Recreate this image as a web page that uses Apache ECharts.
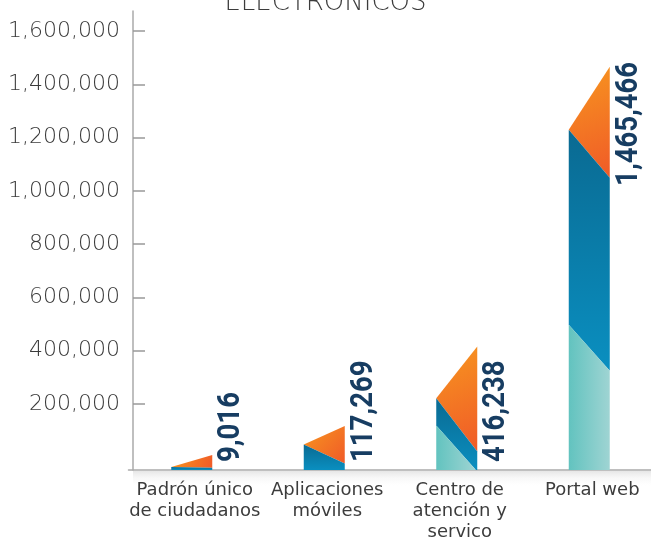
<!DOCTYPE html>
<html>
<head>
<meta charset="utf-8">
<script src="https://cdn.jsdelivr.net/npm/echarts@6/dist/echarts.min.js"></script>
<style>
  html, body { margin: 0; padding: 0; background: #fff; }
  #chart { width: 651px; height: 540px; }
</style>
</head>
<body>
<div id="chart"></div>
<script>
var categories = ['Padrón único\nde ciudadanos', 'Aplicaciones\nmóviles', 'Centro de\natención y\nservico', 'Portal web'];
var values = [9016, 117269, 416238, 1465466];
var tickMin = 200000;
var tickMax = 1600000;
var tickStep = 200000;

var myChart = echarts.init(document.getElementById('chart'));

// the bar grid uses the same scale as the tick grid, but its axis runs a bit past both ends
var pxPerUnit = 373 / (tickMax - tickMin);
var barMin = tickMin - 66 / pxPerUnit;
var barMax = tickMax + 20 / pxPerUnit;

function fmt(v) {
  return v.toLocaleString('en-US');
}

function renderItem(params, api) {
  var i = api.value(0);
  var v = api.value(1);
  var cs = params.coordSys;
  var base = cs.y + cs.height;
  var pt = api.coord([i, v]);
  var x0 = pt[0] - 23.5;
  var x1 = pt[0] + 17.5;
  var top = pt[1];
  var h = base - top;

  var leftTop = top + Math.min(63, Math.max(12, 0.42 * h));
  var orangeBot = top + Math.min(111, 0.85 * h);
  var tealL = h > 80 ? 0.36 * h : 0;
  var tealR = tealL - 46;

  var children = [];
  // orange fold
  children.push({
    type: 'polygon',
    shape: { points: [[x0, leftTop], [x1, top], [x1, orangeBot]] },
    style: { fill: new echarts.graphic.LinearGradient(0, 0, 1, 1, [
      { offset: 0, color: '#f7961f' }, { offset: 1, color: '#f05a28' }]) }
  });
  // blue body
  var bluePts = [[x0, leftTop], [x1, orangeBot]];
  var xc = x1;
  if (tealL > 0 && tealR < 0) {
    xc = x0 + (x1 - x0) * tealL / 46;
    bluePts.push([x1, base], [xc, base], [x0, base - tealL]);
  } else {
    bluePts.push([x1, base - Math.max(tealR, 0)], [x0, base - tealL]);
  }
  children.push({
    type: 'polygon',
    shape: { points: bluePts },
    style: { fill: new echarts.graphic.LinearGradient(0, 0, 0, 1, [
      { offset: 0, color: '#0a6a92' }, { offset: 1, color: '#0a8fc0' }]) }
  });
  // teal base
  if (tealL > 0) {
    var tealPts = [[x0, base - tealL], [x0, base]];
    if (tealR < 0) {
      tealPts.push([xc, base]);
    } else {
      tealPts.push([x1, base], [x1, base - tealR]);
    }
    children.push({
      type: 'polygon',
      shape: { points: tealPts },
      style: { fill: new echarts.graphic.LinearGradient(0, 0, 1, 0, [
        { offset: 0, color: '#62c3bf' }, { offset: 1, color: '#9fd4d3' }]) }
    });
  }
  // value label, rotated
  var tall = h > 200;
  children.push({
    type: 'text',
    x: x1 + 3,
    y: tall ? top - 5 : base - 8,
    rotation: Math.PI / 2,
    scaleX: 0.86,
    style: {
      text: fmt(v),
      fill: '#173d62',
      font: 'bold 32px Roboto',
      align: tall ? 'right' : 'left',
      verticalAlign: 'top'
    }
  });
  return { type: 'group', children: children };
}

var option = {
  animation: false,
  title: {
    text: 'ELECTRONICOS',
    left: 'center',
    top: -15,
    textStyle: { fontFamily: 'DejaVu Sans', fontSize: 26, fontWeight: 300, color: '#3c3c3c' }
  },
  grid: [
    { left: 133, right: -7.5, top: 31, bottom: 136, outerBoundsMode: 'none' },
    { left: 128.5, right: -7.5, top: 11, bottom: 70, outerBoundsMode: 'none' }
  ],
  graphic: [{
    type: 'rect',
    z: -1,
    shape: { x: 133, y: 471, width: 518, height: 16 },
    style: { fill: new echarts.graphic.LinearGradient(0, 0, 0, 1, [
      { offset: 0, color: '#e6e6e6' }, { offset: 1, color: 'rgba(255,255,255,0)' }]) }
  }],
  xAxis: [
    { gridIndex: 0, type: 'value', show: false },
    {
      gridIndex: 1,
      type: 'category',
      data: categories,
      axisLine: { onZero: false, lineStyle: { color: '#aaa', width: 1.5 } },
      axisTick: { show: false },
      axisLabel: {
        interval: 0,
        margin: 10,
        fontFamily: 'DejaVu Sans',
        fontSize: 18,
        lineHeight: 21,
        color: '#3c3c3c'
      }
    }
  ],
  yAxis: [
    {
      gridIndex: 0,
      type: 'value',
      min: tickMin,
      max: tickMax,
      interval: tickStep,
      axisLine: { show: false },
      axisTick: { show: true, inside: true, length: 12, lineStyle: { color: '#999', width: 1.5 } },
      splitLine: { show: false },
      axisLabel: {
        formatter: fmt,
        margin: 13,
        fontFamily: 'DejaVu Sans',
        fontSize: 22,
        fontWeight: 300,
        color: '#3a3a3a'
      }
    },
    {
      gridIndex: 1,
      type: 'value',
      min: barMin,
      max: barMax,
      offset: -4.5,
      axisLine: { show: true, lineStyle: { color: '#aaa', width: 1.5 } },
      axisTick: { show: false },
      axisLabel: { show: false },
      splitLine: { show: false }
    }
  ],
  series: [{
    type: 'custom',
    xAxisIndex: 1,
    yAxisIndex: 1,
    data: values.map(function (v, i) { return [i, v]; }),
    renderItem: renderItem
  }]
};

myChart.setOption(option);
</script>
</body>
</html>
